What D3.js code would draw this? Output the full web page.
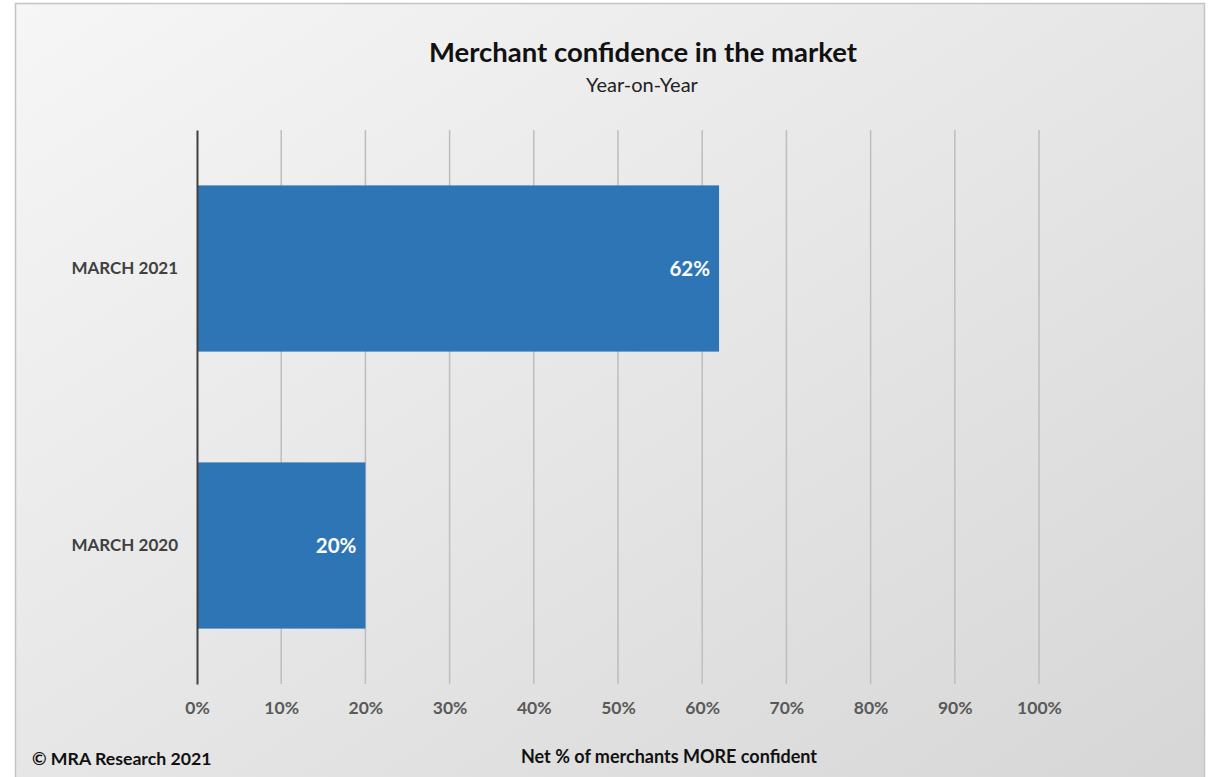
<!DOCTYPE html>
<html>
<head>
<meta charset="utf-8">
<script src="https://cdn.jsdelivr.net/npm/d3@7"></script>
<style>
  body { margin: 0; background: #fff; }
  svg { display: block; font-family: Lato, "Open Sans", sans-serif; }
</style>
</head>
<body>
<div class="chart"></div>
<script>
// data
var categories = ["MARCH 2021", "MARCH 2020"];
var values = [62, 20];
var tickValues = [0, 10, 20, 30, 40, 50, 60, 70, 80, 90, 100];

var svgWidth = 1211;
var svgHeight = 777;

var margin = { top: 130, left: 197, right: 172, bottom: 93 };
var width = svgWidth - margin.left - margin.right;
var height = svgHeight - margin.top - margin.bottom;

var svg = d3.select(".chart")
  .append("svg")
  .attr("width", svgWidth)
  .attr("height", svgHeight);

// background gradient
var defs = svg.append("defs");
var grad = defs.append("linearGradient")
  .attr("id", "bg")
  .attr("x1", "0%").attr("y1", "0%")
  .attr("x2", "100%").attr("y2", "100%");
grad.append("stop").attr("offset", "0%").attr("stop-color", "#f6f6f6");
grad.append("stop").attr("offset", "100%").attr("stop-color", "#d6d6d6");

svg.append("rect")
  .attr("x", 15.5).attr("y", 3.5)
  .attr("width", 1189).attr("height", 790)
  .attr("fill", "url(#bg)")
  .attr("stroke", "#c4c4c4")
  .attr("stroke-width", 1.5);

var chartGroup = svg.append("g")
  .attr("transform", `translate(${margin.left}, ${margin.top})`);

// scales
var xScale = d3.scaleLinear()
  .domain([0, 100])
  .range([0, 842]);

var yScale = d3.scaleBand()
  .domain(categories)
  .range([0, height])
  .paddingInner(0.4)
  .paddingOuter(0.2);

// gridlines
chartGroup.append("g")
  .selectAll("line")
  .data(tickValues.slice(1))
  .enter()
  .append("line")
  .attr("x1", d => xScale(d))
  .attr("x2", d => xScale(d))
  .attr("y1", 0)
  .attr("y2", height)
  .attr("stroke", "#bdbdbd")
  .attr("stroke-width", 1.5);

// bottom axis (labels only)
var bottomAxis = d3.axisBottom(xScale)
  .tickValues(tickValues)
  .tickSize(0)
  .tickPadding(18)
  .tickFormat(d => d + "%");

var xAxisG = chartGroup.append("g")
  .attr("transform", `translate(0, ${height})`)
  .call(bottomAxis);
xAxisG.select(".domain").remove();
xAxisG.selectAll("text")
  .attr("font-family", "Lato, sans-serif")
  .attr("font-size", "17.5px")
  .attr("font-weight", "bold")
  .attr("fill", "#595959");

// bars
chartGroup.selectAll("rect.bar")
  .data(values)
  .enter()
  .append("rect")
  .attr("class", "bar")
  .attr("x", 0)
  .attr("y", (d, i) => yScale(categories[i]))
  .attr("width", d => xScale(d))
  .attr("height", yScale.bandwidth())
  .attr("fill", "#2e75b6");

// bar labels
chartGroup.selectAll("text.barLabel")
  .data(values)
  .enter()
  .append("text")
  .attr("class", "barLabel")
  .attr("x", d => xScale(d) - 9)
  .attr("y", (d, i) => yScale(categories[i]) + yScale.bandwidth() / 2)
  .attr("dy", "0.35em")
  .attr("text-anchor", "end")
  .attr("font-size", "20.5px")
  .attr("font-weight", "bold")
  .attr("fill", "#ffffff")
  .text(d => d + "%");

// left axis
var leftAxis = d3.axisLeft(yScale).tickSize(0).tickPadding(19);
var yAxisG = chartGroup.append("g").call(leftAxis);
yAxisG.select(".domain")
  .attr("stroke", "#404040")
  .attr("stroke-width", 2);
yAxisG.selectAll("text")
  .attr("font-family", "Lato, sans-serif")
  .attr("font-size", "17px")
  .attr("font-weight", "bold")
  .attr("fill", "#404040");

// titles
svg.append("text")
  .attr("x", 643).attr("y", 62)
  .attr("text-anchor", "middle")
  .attr("font-size", "27.5px")
  .attr("font-weight", "bold")
  .attr("fill", "#111")
  .text("Merchant confidence in the market");

svg.append("text")
  .attr("x", 642).attr("y", 92)
  .attr("text-anchor", "middle")
  .attr("font-size", "20px")
  .attr("fill", "#222")
  .text("Year-on-Year");

// axis title
svg.append("text")
  .attr("x", 669).attr("y", 763)
  .attr("text-anchor", "middle")
  .attr("font-size", "18px")
  .attr("font-weight", "bold")
  .attr("fill", "#111")
  .text("Net % of merchants MORE confident");

// footer
svg.append("text")
  .attr("x", 32).attr("y", 765)
  .attr("font-size", "17.7px")
  .attr("font-weight", "bold")
  .attr("fill", "#111")
  .text("© MRA Research 2021");
</script>
</body>
</html>
